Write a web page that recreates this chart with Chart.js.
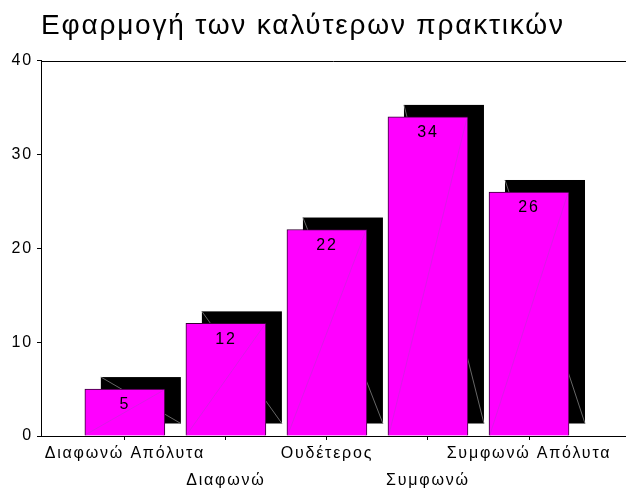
<!DOCTYPE html>
<html>
<head>
<meta charset="utf-8">
<script src="https://cdn.jsdelivr.net/npm/chart.js@4.4.1/dist/chart.umd.min.js"></script>
<style>
  html, body { margin: 0; padding: 0; background: #fff; }
  #wrap { width: 626px; height: 495px; }
</style>
</head>
<body>
<div id="wrap"><canvas id="barChart" width="626" height="495"></canvas></div>
<script>
const titulo = 'Εφαρμογή των καλύτερων πρακτικών';
const categorias = ['Διαφωνώ Απόλυτα', 'Διαφωνώ', 'Ουδέτερος', 'Συμφωνώ', 'Συμφωνώ Απόλυτα'];
const valores = [5, 12, 22, 34, 26];
const yTicks = [0, 10, 20, 30, 40];

const fonte = '"Liberation Sans", Arial, sans-serif';

// espacamento entre letras, como no original
const espacamento = {
    id: 'espacamento',
    beforeUpdate(chart) { chart.ctx.letterSpacing = '1.8px'; },
    beforeDraw(chart) { chart.ctx.letterSpacing = '1.8px'; }
};

// Sombra 3D preta atras de cada barra + diagonais + rotulos
const efeito3d = {
    id: 'efeito3d',
    beforeDatasetsDraw(chart) {
        const ctx = chart.ctx;
        const meta = chart.getDatasetMeta(0);
        const dx = 16, dy = 12;
        ctx.save();
        meta.data.forEach(bar => {
            const w = bar.width;
            const l = bar.x - w / 2, r = bar.x + w / 2;
            const t = bar.y, b = bar.base;
            ctx.fillStyle = '#000';
            ctx.fillRect(l + dx, t - dy, w, b - t);
            // diagonal da face de tras
            ctx.strokeStyle = '#666';
            ctx.lineWidth = 1;
            ctx.beginPath();
            ctx.moveTo(l + dx, t - dy);
            ctx.lineTo(r + dx, b - dy);
            ctx.stroke();
        });
        ctx.restore();
    },
    afterDatasetsDraw(chart) {
        const ctx = chart.ctx;
        const meta = chart.getDatasetMeta(0);
        const area = chart.chartArea;
        ctx.save();
        meta.data.forEach((bar, i) => {
            const w = bar.width;
            const l = bar.x - w / 2, r = bar.x + w / 2;
            ctx.strokeStyle = 'rgba(170, 60, 200, 0.6)';
            ctx.lineWidth = 0.7;
            ctx.beginPath();
            ctx.moveTo(l + 1, bar.base - 1);
            ctx.lineTo(r - 1, bar.y + 1);
            ctx.stroke();
            ctx.fillStyle = '#000';
            ctx.font = '16px ' + fonte;
            ctx.textAlign = 'center';
            ctx.textBaseline = 'middle';
            ctx.fillText(String(valores[i]), bar.x, bar.y + 16);
        });
        // linha superior do quadro
        ctx.strokeStyle = '#000';
        ctx.lineWidth = 1;
        ctx.beginPath();
        ctx.moveTo(area.left, Math.round(area.top) + 0.5);
        ctx.lineTo(area.right, Math.round(area.top) + 0.5);
        ctx.stroke();
        ctx.restore();
    }
};

const ctx = document.getElementById('barChart').getContext('2d');
new Chart(ctx, {
    type: 'bar',
    data: {
        datasets: [{
            data: valores.map((v, i) => ({ x: i, y: v })),
            backgroundColor: '#ff00ff',
            borderColor: '#330033',
            borderWidth: 1,
            barThickness: 80
        }]
    },
    options: {
        responsive: false,
        animation: false,
        layout: { padding: 0 },
        plugins: {
            legend: { display: false },
            tooltip: { enabled: false },
            title: {
                display: true,
                text: titulo,
                align: 'start',
                fullSize: false,
                color: '#000',
                font: { family: fonte, size: 28, weight: 'normal', lineHeight: 1.2 },
                padding: { top: 9, bottom: 18 }
            }
        },
        scales: {
            x: {
                type: 'linear',
                offset: false,
                min: -0.83,
                max: 4.96,
                afterFit(scale) { scale.height = 59; },
                afterBuildTicks(scale) {
                    scale.ticks = categorias.map((c, i) => ({ value: i }));
                },
                border: { display: true, color: '#000', width: 1 },
                grid: { display: true, offset: false, drawOnChartArea: false, color: '#000', tickLength: 4 },
                ticks: {
                    color: '#000',
                    font: { family: fonte, size: 16, lineHeight: 1.7 },
                    padding: 0,
                    maxRotation: 0,
                    autoSkip: false,
                    callback: function (value) {
                        const i = Math.round(value);
                        return i % 2 === 0 ? categorias[i] : ['', categorias[i]];
                    }
                }
            },
            y: {
                min: 0,
                max: 40,
                afterFit(scale) { scale.width = 41; },
                afterBuildTicks(scale) {
                    scale.ticks = yTicks.map(v => ({ value: v }));
                },
                border: { display: true, color: '#000', width: 1 },
                grid: { display: true, drawOnChartArea: false, color: '#000', tickLength: 4 },
                ticks: {
                    color: '#000',
                    font: { family: fonte, size: 16 },
                    padding: 4
                }
            }
        }
    },
    plugins: [espacamento, efeito3d]
});
</script>
</body>
</html>
